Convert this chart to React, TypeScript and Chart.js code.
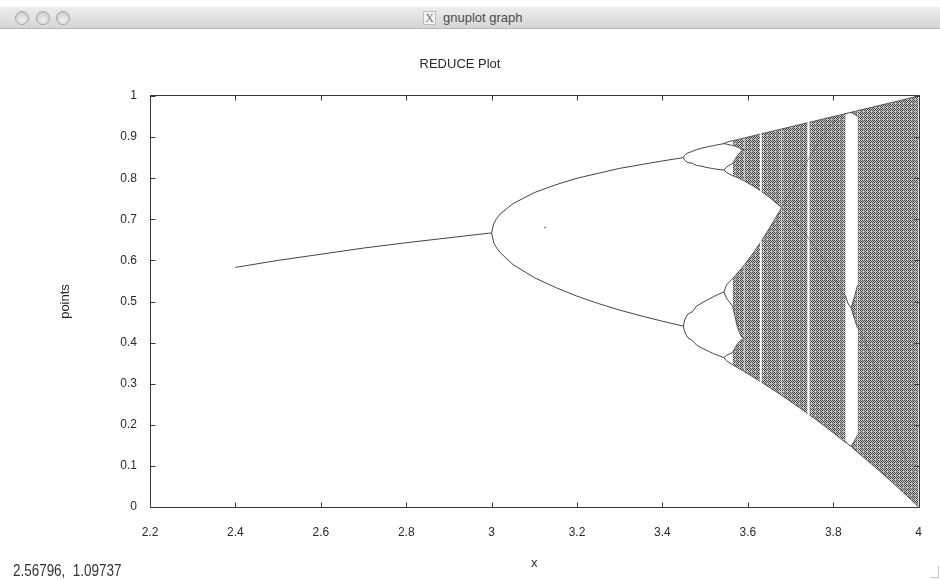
import React, { useEffect, useRef } from "react";
import { Chart, registerables } from "chart.js";

Chart.register(...registerables);

// ---------- text ----------
const windowTitle = "gnuplot graph";
const plotTitle = "REDUCE Plot";
const xAxisTitle = "x";
const yAxisTitle = "points";
const statusText = "2.56796,  1.09737";

// ---------- tick labels ----------
const xTicks = [2.2, 2.4, 2.6, 2.8, 3, 3.2, 3.4, 3.6, 3.8, 4];
const yTicks = [0, 0.1, 0.2, 0.3, 0.4, 0.5, 0.6, 0.7, 0.8, 0.9, 1];

// ---------- single branch (2.4 .. 3.0) ----------
const fixedR = [2.4, 2.5, 2.6, 2.7, 2.8, 2.9, 3.0];
const fixedY = [0.583, 0.6, 0.615, 0.63, 0.643, 0.655, 0.667];

// ---------- period 2 (3.0 .. 3.449) ----------
const p2R = [3.0, 3.005, 3.01, 3.02, 3.05, 3.1, 3.15, 3.2, 3.25, 3.3, 3.35, 3.4, 3.449];
const p2Upper = [0.667, 0.69, 0.699, 0.713, 0.738, 0.765, 0.784, 0.8, 0.812, 0.824, 0.833, 0.842, 0.85];
const p2Lower = [0.667, 0.643, 0.633, 0.619, 0.59, 0.558, 0.534, 0.513, 0.495, 0.479, 0.465, 0.452, 0.44];

// ---------- period 4 (3.449 .. 3.544) ----------
const p4R = [3.449, 3.452, 3.455, 3.46, 3.47, 3.48, 3.49, 3.5, 3.51, 3.52, 3.53, 3.544];
const p4UpperHigh = [0.85, 0.8557, 0.8585, 0.8618, 0.8653, 0.8696, 0.8723, 0.875, 0.8772, 0.8794, 0.8815, 0.8841];
const p4UpperLow = [0.85, 0.8441, 0.8413, 0.838, 0.8363, 0.8309, 0.8296, 0.8269, 0.8249, 0.823, 0.8215, 0.8199];
const p4LowerHigh = [0.44, 0.4548, 0.4617, 0.4697, 0.475, 0.489, 0.495, 0.5009, 0.5065, 0.512, 0.517, 0.5233];
const p4LowerLow = [0.44, 0.4264, 0.4197, 0.4116, 0.4052, 0.394, 0.388, 0.3828, 0.3778, 0.373, 0.369, 0.3634];

// ---------- period 8 (3.544 .. 3.5644) ----------
const p8R = [3.544, 3.55, 3.556, 3.5644];
const p8A1 = [0.8841, 0.8875, 0.8893, 0.8915];
const p8A2 = [0.8841, 0.8832, 0.8815, 0.8795];
const p8B1 = [0.8199, 0.827, 0.831, 0.836];
const p8B2 = [0.8199, 0.814, 0.8105, 0.806];
const p8C1 = [0.5233, 0.54, 0.547, 0.556];
const p8C2 = [0.5233, 0.508, 0.5, 0.488];
const p8D1 = [0.3634, 0.369, 0.372, 0.376];
const p8D2 = [0.3634, 0.356, 0.3515, 0.346];

// ---------- chaotic bands: four bands (3.5644 .. 3.5925) ----------
const aR = [3.5644, 3.57, 3.575, 3.58, 3.585, 3.5925];
const aU1Top = [0.8915, 0.8925, 0.8938, 0.895, 0.8963, 0.8981];
const aU1Bottom = [0.8795, 0.878, 0.876, 0.873, 0.87, 0.8688];
const aU2Top = [0.836, 0.846, 0.854, 0.861, 0.866, 0.8688];
const aU2Bottom = [0.806, 0.8039, 0.8016, 0.7992, 0.7967, 0.7928];
const aL1Top = [0.556, 0.5628, 0.5687, 0.5745, 0.5808, 0.59];
const aL1Bottom = [0.488, 0.462, 0.44, 0.425, 0.414, 0.4096];
const aL2Top = [0.376, 0.388, 0.396, 0.402, 0.407, 0.4096];
const aL2Bottom = [0.346, 0.3425, 0.3395, 0.3364, 0.3334, 0.3287];

// ---------- two bands (3.5925 .. 3.629) ----------
const bR = [3.5925, 3.6, 3.61, 3.62, 3.629];
const bUpperTop = [0.8981, 0.9, 0.9025, 0.905, 0.9073];
const bUpperBottom = [0.7927, 0.7885, 0.7825, 0.776, 0.7698];
const bLowerTop = [0.5903, 0.6004, 0.6144, 0.6292, 0.6431];
const bLowerBottom = [0.3287, 0.324, 0.3177, 0.3112, 0.3054];

// ---------- two bands (3.632 .. 3.679) ----------
const cR = [3.632, 3.64, 3.65, 3.66, 3.67, 3.679];
const cUpperTop = [0.908, 0.91, 0.9125, 0.915, 0.9175, 0.9198];
const cUpperBottom = [0.7676, 0.7616, 0.7537, 0.7452, 0.7363, 0.7282];
const cLowerTop = [0.6479, 0.6609, 0.6776, 0.6949, 0.7126, 0.7282];
const cLowerBottom = [0.3034, 0.2981, 0.2914, 0.2846, 0.2778, 0.2715];

// ---------- one band (3.679 .. 3.740) ----------
const dR = [3.679, 3.69, 3.7, 3.71, 3.72, 3.73, 3.74];
const dTop = [0.9198, 0.9225, 0.925, 0.9275, 0.93, 0.9325, 0.935];
const dBottom = [0.2715, 0.2638, 0.2567, 0.2495, 0.2422, 0.2348, 0.2273];

// ---------- one band (3.744 .. 3.829) ----------
const eR = [3.744, 3.76, 3.78, 3.8, 3.82, 3.829];
const eTop = [0.936, 0.94, 0.945, 0.95, 0.955, 0.9573];
const eBottom = [0.2243, 0.2121, 0.1965, 0.1805, 0.1642, 0.1566];

// ---------- period-3 window (3.8284 .. 3.857) ----------
const w3R = [3.8284, 3.835, 3.8415];
const w3Top = [0.9571, 0.9587, 0.96];
const w3Mid = [0.5144, 0.494, 0.485];
const w3Low = [0.1599, 0.1518, 0.148];
const w3BandR = [3.8415, 3.849, 3.857];
const w3TopHi = [0.9604, 0.9623, 0.9643];
const w3TopLo = [0.96, 0.956, 0.95];
const w3MidHi = [0.485, 0.51, 0.54];
const w3MidLo = [0.485, 0.46, 0.435];
const w3LowHi = [0.148, 0.16, 0.175];
const w3LowLo = [0.148, 0.14, 0.133];

// ---------- one band (3.857 .. 4.0) ----------
const fR = [3.857, 3.87, 3.89, 3.91, 3.93, 3.95, 3.97, 3.99, 4.0];
const fTop = [0.9643, 0.9675, 0.9725, 0.9775, 0.9825, 0.9875, 0.9925, 0.9975, 1.0];
const fBottom = [0.133, 0.1217, 0.104, 0.086, 0.0676, 0.0488, 0.0296, 0.01, 0.0];

// ---------- dense curves inside the chaotic region ----------
const curveR1 = [3.679, 3.7, 3.72, 3.741, 3.76, 3.78, 3.8, 3.82, 3.829];
const curveA1 = [0.728, 0.706, 0.6828, 0.6554, 0.6283, 0.5968, 0.5621, 0.5243, 0.508];
const curveB1 = [0.728, 0.768, 0.8057, 0.8449, 0.8781, 0.9096, 0.9354, 0.9527, 0.957];
const curveR2 = [3.857, 3.87, 3.89, 3.91, 3.93, 3.95, 3.97];
const curveA2 = [0.4448, 0.4137, 0.3625, 0.3073, 0.2477, 0.1834, 0.114];

// ---------- stray transient point ----------
const strayR = [3.125];
const strayY = [0.68];

// ---------- style ----------
const FONT = "'Liberation Sans', Arial, Helvetica, sans-serif";
const INK = "#444444";
const TEXT = "#2a2a2a";
const FRAME = "#3a3a3a";
const DOT = "#484848";
const STIPPLE = [
  "1010",
  "0101",
  "1010",
  "0100",
];

const pts = (xs: number[], ys: number[]) => xs.map((x, i) => ({ x, y: ys[i] }));

function makePattern(): CanvasPattern | string {
  const c = document.createElement("canvas");
  c.width = STIPPLE[0].length;
  c.height = STIPPLE.length;
  const g = c.getContext("2d");
  if (!g) return DOT;
  g.fillStyle = "rgba(150,150,150,0.55)";
  g.fillRect(0, 0, c.width, c.height);
  g.fillStyle = DOT;
  STIPPLE.forEach((row, j) =>
    row.split("").forEach((b, i) => {
      if (b === "1") g.fillRect(i, j, 1, 1);
    })
  );
  return g.createPattern(c, "repeat") ?? DOT;
}

const framePlugin = {
  id: "gnuplotFrame",
  afterDatasetsDraw(chart: any) {
    const { ctx, chartArea: a, scales } = chart;
    const xs = scales.x;
    const ys = scales.y;
    const L = Math.round(a.left) + 0.5;
    const R = Math.round(a.right) + 0.5;
    const T = Math.round(a.top) - 0.5;
    const B = Math.round(a.bottom) + 0.5;
    ctx.save();
    ctx.strokeStyle = FRAME;
    ctx.lineWidth = 1;
    ctx.beginPath();
    ctx.rect(L, T, R - L, B - T);
    const len = 5;
    xTicks.forEach((v) => {
      const px = Math.round(xs.getPixelForValue(v)) + 0.5;
      ctx.moveTo(px, B);
      ctx.lineTo(px, B - len);
      ctx.moveTo(px, T);
      ctx.lineTo(px, T + len);
    });
    yTicks.forEach((v) => {
      const py = Math.round(ys.getPixelForValue(v)) + 0.5;
      ctx.moveTo(L, py);
      ctx.lineTo(L + len, py);
      ctx.moveTo(R, py);
      ctx.lineTo(R - len, py);
    });
    ctx.stroke();
    ctx.restore();
  },
};

export default function App() {
  const ref = useRef<HTMLCanvasElement | null>(null);

  useEffect(() => {
    document.body.style.margin = "0";
    const canvas = ref.current;
    if (!canvas) return;
    const pattern = makePattern();

    const line = (xs: number[], ys: number[], color = INK, width = 1): any => ({
      data: pts(xs, ys),
      borderColor: color,
      borderWidth: width,
      pointRadius: 0,
      fill: false,
      tension: 0,
    });
    const edge = "rgba(60,60,60,0.8)";
    const band = (xs: number[], top: number[], bottom: number[]): any[] => [
      line(xs, top, edge),
      { ...line(xs, bottom, edge), fill: "-1", backgroundColor: pattern },
    ];
    const curve = "rgba(30,30,30,0.5)";

    const datasets: any[] = [
      line(fixedR, fixedY),
      line(p2R, p2Upper),
      line(p2R, p2Lower),
      line(p4R, p4UpperHigh),
      line(p4R, p4UpperLow),
      line(p4R, p4LowerHigh),
      line(p4R, p4LowerLow),
      line(p8R, p8A1),
      line(p8R, p8A2),
      line(p8R, p8B1),
      line(p8R, p8B2),
      line(p8R, p8C1),
      line(p8R, p8C2),
      line(p8R, p8D1),
      line(p8R, p8D2),
      ...band(aR, aU1Top, aU1Bottom),
      ...band(aR, aU2Top, aU2Bottom),
      ...band(aR, aL1Top, aL1Bottom),
      ...band(aR, aL2Top, aL2Bottom),
      ...band(bR, bUpperTop, bUpperBottom),
      ...band(bR, bLowerTop, bLowerBottom),
      ...band(cR, cUpperTop, cUpperBottom),
      ...band(cR, cLowerTop, cLowerBottom),
      ...band(dR, dTop, dBottom),
      ...band(eR, eTop, eBottom),
      line(w3R, w3Top),
      line(w3R, w3Mid),
      line(w3R, w3Low),
      ...band(w3BandR, w3TopHi, w3TopLo),
      ...band(w3BandR, w3MidHi, w3MidLo),
      ...band(w3BandR, w3LowHi, w3LowLo),
      ...band(fR, fTop, fBottom),
      line(curveR1, curveA1, curve),
      line(curveR1, curveB1, curve),
      line(curveR2, curveA2, curve),
      {
        data: pts(strayR, strayY),
        showLine: false,
        pointRadius: 0.8,
        pointBorderWidth: 0,
        pointBackgroundColor: INK,
        fill: false,
      },
    ];

    const tickFont = { family: FONT, size: 12 };
    const titleFont = { family: FONT, size: 13, weight: "normal" as const };

    const chart = new Chart(canvas, {
      type: "line",
      data: { datasets },
      plugins: [framePlugin],
      options: {
        animation: false,
        responsive: false,
        events: [],
        layout: { padding: { left: 0, right: 20, top: 0, bottom: 0 } },
        plugins: {
          legend: { display: false },
          tooltip: { enabled: false },
          title: {
            display: true,
            text: plotTitle,
            color: TEXT,
            font: titleFont,
            padding: { top: 57, bottom: 23.4 },
          },
        },
        scales: {
          x: {
            type: "linear",
            min: 2.2,
            max: 4,
            afterBuildTicks: (s: any) => {
              s.ticks = xTicks.map((v) => ({ value: v }));
            },
            afterFit: (s: any) => {
              s.height = 73;
            },
            grid: { display: false, drawTicks: false },
            border: { display: false },
            ticks: {
              padding: 18,
              color: TEXT,
              font: tickFont,
              maxRotation: 0,
              autoSkip: false,
              callback: (v: any) => String(v),
            },
            title: {
              display: true,
              text: xAxisTitle,
              color: TEXT,
              font: titleFont,
              padding: { top: 0, bottom: 9 },
            },
          },
          y: {
            type: "linear",
            min: 0,
            max: 1,
            afterBuildTicks: (s: any) => {
              s.ticks = yTicks.map((v) => ({ value: v }));
            },
            afterFit: (s: any) => {
              s.width = 150;
            },
            grid: { display: false, drawTicks: false },
            border: { display: false },
            ticks: {
              padding: 13,
              color: TEXT,
              font: tickFont,
              autoSkip: false,
              callback: (v: any) => String(v),
            },
            title: {
              display: true,
              text: yAxisTitle,
              color: TEXT,
              font: titleFont,
              padding: { top: 58, bottom: 0 },
            },
          },
        },
      },
    });
    return () => chart.destroy();
  }, []);

  const circle = (left: number): React.CSSProperties => ({
    position: "absolute",
    left,
    top: 4,
    width: 12,
    height: 12,
    borderRadius: "50%",
    border: "1px solid #a4a4a4",
    background: "radial-gradient(circle at 50% 70%, #f2f2f2 0%, #d9d9d9 55%, #c2c2c2 100%)",
  });

  return (
    <div
      style={{
        position: "relative",
        width: 940,
        height: 580,
        background: "#ffffff",
        overflow: "hidden",
        fontFamily: FONT,
      }}
    >
      <canvas
        ref={ref}
        width={940}
        height={580}
        style={{ position: "absolute", left: 0, top: 0, width: 940, height: 580 }}
      />
      <div
        style={{
          position: "absolute",
          left: 0,
          top: 7,
          width: 940,
          height: 22,
          background: "linear-gradient(#eeeeee, #d5d5d5)",
          borderBottom: "1px solid #b9b9b9",
          boxSizing: "border-box",
        }}
      >
        <div style={circle(15)} />
        <div style={circle(36)} />
        <div style={circle(56)} />
        <div
          style={{
            position: "absolute",
            left: 423,
            top: 4,
            width: 11,
            height: 12,
            border: "1px solid #bdbdbd",
            background: "#f4f4f4",
            color: "#777",
            fontFamily: "'Liberation Serif', serif",
            fontSize: 12,
            lineHeight: "12px",
            textAlign: "center",
          }}
        >
          X
        </div>
        <div
          style={{
            position: "absolute",
            left: 443,
            top: 0,
            height: 22,
            lineHeight: "22px",
            fontSize: 13,
            color: "#4d4d4d",
            whiteSpace: "nowrap",
          }}
        >
          {windowTitle}
        </div>
      </div>
      <div
        style={{
          position: "absolute",
          left: 13,
          top: 562,
          fontFamily: FONT,
          fontSize: 16,
          lineHeight: "18px",
          color: "#333",
          whiteSpace: "pre",
          transform: "scaleX(0.84)",
          transformOrigin: "0 0",
        }}
      >
        {statusText}
      </div>
      <div
        style={{
          position: "absolute",
          left: 930,
          top: 566,
          width: 9,
          height: 12,
          borderRight: "1px solid #c8c8c8",
          borderBottom: "1px solid #c8c8c8",
          boxSizing: "border-box",
        }}
      />
    </div>
  );
}
